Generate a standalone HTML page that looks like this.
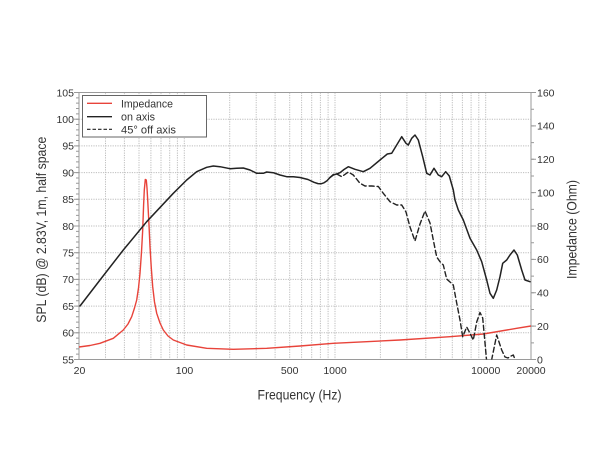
<!DOCTYPE html>
<html><head><meta charset="utf-8"><style>
html,body{margin:0;padding:0;background:#fff;}
svg{display:block;}
text{font-family:"Liberation Sans",sans-serif;fill:#333;}
</style></head><body>
<svg width="600" height="450" viewBox="0 0 600 450" xmlns="http://www.w3.org/2000/svg">
<defs><clipPath id="pc"><rect x="79" y="92.5" width="452" height="267"/></clipPath></defs>
<rect width="600" height="450" fill="#fff"/>
<g stroke="#bdbdbd" stroke-width="1" stroke-dasharray="1.2 1.2">
<line x1="105.5" y1="92.5" x2="105.5" y2="359.5"/><line x1="124.4" y1="92.5" x2="124.4" y2="359.5"/>
<line x1="139" y1="92.5" x2="139" y2="359.5"/><line x1="150.9" y1="92.5" x2="150.9" y2="359.5"/>
<line x1="161" y1="92.5" x2="161" y2="359.5"/><line x1="169.7" y1="92.5" x2="169.7" y2="359.5"/>
<line x1="177.4" y1="92.5" x2="177.4" y2="359.5"/><line x1="184.3" y1="92.5" x2="184.3" y2="359.5"/>
<line x1="229.7" y1="92.5" x2="229.7" y2="359.5"/><line x1="256.2" y1="92.5" x2="256.2" y2="359.5"/>
<line x1="275.1" y1="92.5" x2="275.1" y2="359.5"/><line x1="289.7" y1="92.5" x2="289.7" y2="359.5"/>
<line x1="301.6" y1="92.5" x2="301.6" y2="359.5"/><line x1="311.7" y1="92.5" x2="311.7" y2="359.5"/>
<line x1="320.4" y1="92.5" x2="320.4" y2="359.5"/><line x1="328.1" y1="92.5" x2="328.1" y2="359.5"/>
<line x1="335" y1="92.5" x2="335" y2="359.5"/><line x1="380.4" y1="92.5" x2="380.4" y2="359.5"/>
<line x1="406.9" y1="92.5" x2="406.9" y2="359.5"/><line x1="425.8" y1="92.5" x2="425.8" y2="359.5"/>
<line x1="440.4" y1="92.5" x2="440.4" y2="359.5"/><line x1="452.3" y1="92.5" x2="452.3" y2="359.5"/>
<line x1="462.4" y1="92.5" x2="462.4" y2="359.5"/><line x1="471.1" y1="92.5" x2="471.1" y2="359.5"/>
<line x1="478.8" y1="92.5" x2="478.8" y2="359.5"/><line x1="485.7" y1="92.5" x2="485.7" y2="359.5"/>
</g>
<g stroke="#bdbdbd" stroke-width="1" stroke-dasharray="1.2 1.2">
<line x1="79" y1="119.2" x2="531" y2="119.2"/><line x1="79" y1="145.9" x2="531" y2="145.9"/>
<line x1="79" y1="172.6" x2="531" y2="172.6"/><line x1="79" y1="199.3" x2="531" y2="199.3"/>
<line x1="79" y1="226" x2="531" y2="226"/><line x1="79" y1="252.7" x2="531" y2="252.7"/>
<line x1="79" y1="279.4" x2="531" y2="279.4"/><line x1="79" y1="306.1" x2="531" y2="306.1"/>
<line x1="79" y1="332.8" x2="531" y2="332.8"/>
</g>
<rect x="79" y="92.5" width="452" height="267" fill="none" stroke="#9a9a9a" stroke-width="1"/>
<line x1="77.5" y1="92" x2="77.5" y2="361" stroke="#999" stroke-width="3" stroke-dasharray="1 4.34"/>
<line x1="532.5" y1="92" x2="532.5" y2="361" stroke="#999" stroke-width="3" stroke-dasharray="1 15.69"/>
<g stroke="#999" stroke-width="1">
<line x1="531" y1="92.5" x2="536" y2="92.5"/><line x1="531" y1="125.9" x2="536" y2="125.9"/>
<line x1="531" y1="159.25" x2="536" y2="159.25"/><line x1="531" y1="192.6" x2="536" y2="192.6"/>
<line x1="531" y1="226" x2="536" y2="226"/><line x1="531" y1="259.4" x2="536" y2="259.4"/>
<line x1="531" y1="292.75" x2="536" y2="292.75"/><line x1="531" y1="326.1" x2="536" y2="326.1"/>
<line x1="531" y1="359.5" x2="536" y2="359.5"/>
<line x1="74" y1="92.5" x2="79" y2="92.5"/><line x1="74" y1="119.2" x2="79" y2="119.2"/>
<line x1="74" y1="145.9" x2="79" y2="145.9"/><line x1="74" y1="172.6" x2="79" y2="172.6"/>
<line x1="74" y1="199.3" x2="79" y2="199.3"/><line x1="74" y1="226" x2="79" y2="226"/>
<line x1="74" y1="252.7" x2="79" y2="252.7"/><line x1="74" y1="279.4" x2="79" y2="279.4"/>
<line x1="74" y1="306.1" x2="79" y2="306.1"/><line x1="74" y1="332.8" x2="79" y2="332.8"/>
<line x1="74" y1="359.5" x2="79" y2="359.5"/>
</g>
<g clip-path="url(#pc)" fill="none" stroke-linejoin="round" stroke-linecap="round">
<polyline stroke="#e8433a" stroke-width="1.4" points="79,347 90,345.5 100,343.3 113.3,338.3 123.3,330 128,324 131.7,316.7 134.5,308 136.7,300 138.5,288 140,273.3 141.5,252 142.7,230 143.6,205 144.3,190 145.3,179.5 146.3,180 147,188 147.7,200 149,225 150,246.7 151.3,268 152.7,286.7 154.5,302 156.7,313.3 160,323 163.3,330 168,336 173.3,340 186.7,345 206.7,348.3 233.3,349.3 266.7,348.3 300,346 333.3,343.3 400,340 450,336.7 483.3,334 516.7,328.3 531,326"/>
<polyline stroke="#222" stroke-width="1.4" stroke-dasharray="5 3" points="330,177.5 333.3,174.5 336.7,174 341.7,176.7 348.3,172 353.3,175 360,183.3 365,186 371.7,186 378.3,186.5 383.3,193.3 390,201.7 396.7,205 401.7,205 406,212 410,227 415,241 420,224 425,211 430,223 433.3,240 436.7,257 440,261.7 443.3,265 446.7,279 450,282 453.3,285 456.7,303 460,320 462.7,336.7 466.7,327 470,333.3 473.3,340 476.7,322 480,312.5 482.7,318 485,343 487,365 490,365 491.7,359.5 496.7,335 501.7,350 505,357 508,358 510,356.5 513.3,355 516,362"/>
<polyline stroke="#222" stroke-width="1.5" points="80,306 100,280 123.3,250 146.7,221.7 173.3,193.3 186.7,180 196.7,171.7 206.7,167.3 213.3,166 220,166.7 230,168.7 236.7,168.3 243.3,168 250,170 256.7,173.3 263.3,173.3 266.7,172 273.3,172.7 280,175 286.7,176.7 293.3,176.7 300,177.5 308,179.5 314,182.3 318,183.6 321,183.8 324,182.8 327,180.8 330,177.5 333.3,175 336.5,174 340,172.7 344,169.5 348.3,166.7 355,169.3 363.3,171.7 370,168.3 380,160 387.3,154 391.7,153.3 396.7,145 401.7,136.7 406,143.3 408.3,145 411.7,138.3 415,135 418.3,140 422.7,156.7 426.7,173.3 430,175 434,168.3 438.3,175 441.7,176.7 445.7,171.7 449.3,176 453.3,190 455,200 458.3,210 463.3,220 470,238.3 476.7,250 481.7,261.7 486.7,280 490,293.3 493.3,298.3 496.7,290 500,276.7 502.7,263.3 506.7,260 510,255 514,250 517.3,255 521.7,270 525,280 530,281.7"/>
</g>
<rect x="82.5" y="95.5" width="124" height="41.5" fill="#fff" stroke="#666" stroke-width="1"/>
<line x1="87" y1="103.3" x2="112" y2="103.3" stroke="#e8433a" stroke-width="1.4"/>
<line x1="87" y1="116.7" x2="112" y2="116.7" stroke="#222" stroke-width="1.4"/>
<line x1="87" y1="129.3" x2="112" y2="129.3" stroke="#222" stroke-width="1.2" stroke-dasharray="3.5 2"/>
<g font-size="11">
<text x="121" y="107.3" textLength="52" lengthAdjust="spacingAndGlyphs">Impedance</text>
<text x="121" y="120.5" textLength="34" lengthAdjust="spacingAndGlyphs">on axis</text>
<text x="121" y="133.3" textLength="55" lengthAdjust="spacingAndGlyphs">45° off axis</text>
</g>
<g font-size="10.5" text-anchor="end">
<text x="74" y="96.3">105</text><text x="74" y="123">100</text>
<text x="74" y="149.7">95</text><text x="74" y="176.4">90</text>
<text x="74" y="203.1">85</text><text x="74" y="229.8">80</text>
<text x="74" y="256.5">75</text><text x="74" y="283.2">70</text>
<text x="74" y="309.9">65</text><text x="74" y="336.6">60</text>
<text x="74" y="363.3">55</text>
</g>
<g font-size="10.5">
<text x="537" y="96.3">160</text><text x="537" y="129.7">140</text>
<text x="537" y="163">120</text><text x="537" y="196.4">100</text>
<text x="537" y="229.8">80</text><text x="537" y="263.2">60</text>
<text x="537" y="296.5">40</text><text x="537" y="329.9">20</text>
<text x="537" y="363.3">0</text>
</g>
<g font-size="10.5" text-anchor="middle">
<text x="79.5" y="374">20</text><text x="184.5" y="374">100</text>
<text x="289.7" y="374">500</text><text x="335" y="374">1000</text>
<text x="485.7" y="374">10000</text><text x="531" y="374">20000</text>
</g>
<text x="257.5" y="399.5" font-size="14" textLength="84" lengthAdjust="spacingAndGlyphs">Frequency (Hz)</text>
<text transform="translate(46,229.7) rotate(-90)" x="0" y="0" font-size="13.5" text-anchor="middle" textLength="186" lengthAdjust="spacingAndGlyphs">SPL (dB) @ 2.83V, 1m, half space</text>
<text transform="translate(576.5,229.5) rotate(-90)" x="0" y="0" font-size="13.5" text-anchor="middle" textLength="99" lengthAdjust="spacingAndGlyphs">Impedance (Ohm)</text>
</svg>
</body></html>
